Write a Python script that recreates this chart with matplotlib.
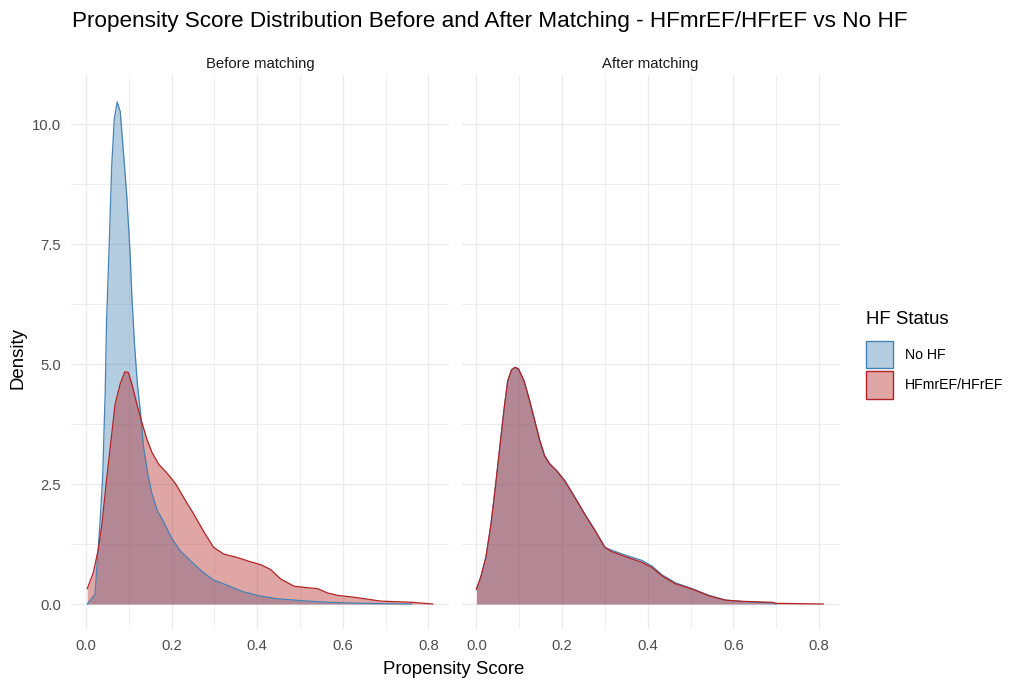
import matplotlib.pyplot as plt
from matplotlib.patches import Patch

plt.rcParams['font.family'] = ['Liberation Sans', 'DejaVu Sans']

# Propensity score densities
before_nohf_x = [0.003, 0.021, 0.033, 0.039, 0.045, 0.048, 0.055, 0.060, 0.066, 0.073,
                 0.080, 0.087, 0.095, 0.103, 0.107, 0.113, 0.120, 0.127, 0.134, 0.144,
                 0.154, 0.167, 0.181, 0.201, 0.220, 0.244, 0.275, 0.298, 0.330, 0.369,
                 0.408, 0.447, 0.502, 0.564, 0.642, 0.760]
before_nohf_y = [0.0, 0.2, 1.72, 2.65, 4.45, 5.88, 7.68, 9.1, 10.1, 10.46,
                 10.26, 9.47, 8.54, 7.32, 6.46, 5.45, 4.59, 4.02, 3.30, 2.73,
                 2.30, 1.94, 1.72, 1.36, 1.11, 0.90, 0.65, 0.50, 0.39, 0.25,
                 0.165, 0.11, 0.07, 0.036, 0.015, 0.0]

before_hf_x = [0.003, 0.017, 0.029, 0.037, 0.048, 0.058, 0.068, 0.080, 0.091, 0.099,
               0.107, 0.119, 0.130, 0.142, 0.154, 0.170, 0.189, 0.209, 0.228, 0.252,
               0.275, 0.298, 0.322, 0.353, 0.384, 0.408, 0.431, 0.455, 0.486, 0.517,
               0.541, 0.564, 0.588, 0.627, 0.658, 0.689, 0.760, 0.810]
before_hf_y = [0.32, 0.65, 1.15, 1.65, 2.58, 3.37, 4.16, 4.59, 4.84, 4.82,
               4.59, 4.16, 3.80, 3.44, 3.16, 2.91, 2.73, 2.51, 2.22, 1.87,
               1.51, 1.18, 1.04, 0.97, 0.88, 0.82, 0.72, 0.52, 0.37, 0.34,
               0.32, 0.23, 0.18, 0.14, 0.10, 0.06, 0.036, 0.0]

after_hf_x = [0.0, 0.010, 0.022, 0.034, 0.045, 0.057, 0.065, 0.073, 0.082, 0.090,
              0.098, 0.111, 0.124, 0.136, 0.148, 0.159, 0.171, 0.187, 0.206, 0.230,
              0.253, 0.277, 0.300, 0.316, 0.347, 0.386, 0.410, 0.433, 0.465, 0.504,
              0.543, 0.582, 0.621, 0.692, 0.700, 0.810]
after_hf_y = [0.31, 0.56, 0.97, 1.67, 2.5, 3.47, 4.10, 4.65, 4.88, 4.93,
              4.90, 4.65, 4.24, 3.82, 3.40, 3.09, 2.92, 2.78, 2.57, 2.22,
              1.87, 1.53, 1.18, 1.09, 0.99, 0.87, 0.76, 0.59, 0.42, 0.31,
              0.17, 0.08, 0.056, 0.035, 0.014, 0.0]

after_nohf_x = [0.0, 0.010, 0.022, 0.034, 0.045, 0.057, 0.065, 0.073, 0.082, 0.090,
                0.098, 0.111, 0.124, 0.136, 0.148, 0.159, 0.171, 0.187, 0.206, 0.230,
                0.253, 0.277, 0.300, 0.316, 0.347, 0.386, 0.410, 0.433, 0.465, 0.504,
                0.543, 0.582, 0.621, 0.692, 0.700]
after_nohf_y = [0.31, 0.56, 0.97, 1.67, 2.5, 3.47, 4.10, 4.65, 4.88, 4.93,
                4.90, 4.65, 4.24, 3.82, 3.40, 3.09, 2.92, 2.78, 2.57, 2.22,
                1.87, 1.53, 1.18, 1.12, 1.02, 0.91, 0.79, 0.61, 0.44, 0.32,
                0.18, 0.08, 0.05, 0.02, 0.0]

panels = ['Before matching', 'After matching']
groups = ['No HF', 'HFmrEF/HFrEF']
colors = ['#4682B4', '#B22222']

x_ticks = [0.0, 0.2, 0.4, 0.6, 0.8]
x_minor = [0.1, 0.3, 0.5, 0.7]
y_ticks = [0.0, 2.5, 5.0, 7.5, 10.0]
y_minor = [1.25, 3.75, 6.25, 8.75]

fig = plt.figure(figsize=(10.19, 6.83), dpi=100)
W, H = 1019, 683
bottom = (H - 629.2) / H
height = (629.2 - 74.6) / H
ax1 = fig.add_axes([71 / W, bottom, 378 / W, height])
ax2 = fig.add_axes([461.5 / W, bottom, 378 / W, height])

data = [
    [(before_nohf_x, before_nohf_y), (before_hf_x, before_hf_y)],
    [(after_nohf_x, after_nohf_y), (after_hf_x, after_hf_y)],
]

for ax, title, series in zip([ax1, ax2], panels, data):
    for (xs, ys), c in zip(series, colors):
        ax.fill_between(xs, ys, color=c, alpha=0.4, lw=0, zorder=2)
        ax.plot(xs, ys, color=c, lw=0.9, zorder=3)
    ax.set_xlim(-0.035, 0.848)
    ax.set_ylim(-0.525, 11.03)
    ax.set_xticks(x_ticks)
    ax.set_xticks(x_minor, minor=True)
    ax.set_yticks(y_ticks)
    ax.set_yticks(y_minor, minor=True)
    ax.grid(which='major', color='#EBEBEB', lw=1.0, zorder=0)
    ax.grid(which='minor', color='#EBEBEB', lw=0.6, zorder=0)
    for s in ax.spines.values():
        s.set_visible(False)
    ax.tick_params(which='both', length=0, labelsize=10.7, labelcolor='#4D4D4D', pad=7)
    ax.set_title(title, fontsize=10.7, color='#1A1A1A', pad=5)

ax1.set_yticklabels(['0.0', '2.5', '5.0', '7.5', '10.0'])
ax1.set_xticklabels(['0.0', '0.2', '0.4', '0.6', '0.8'])
ax2.set_xticklabels(['0.0', '0.2', '0.4', '0.6', '0.8'])
ax2.tick_params(labelleft=False)

fig.text(72 / W, 1 - 21 / H,
         'Propensity Score Distribution Before and After Matching - HFmrEF/HFrEF vs No HF',
         fontsize=16.2, ha='left', va='center', color='black')
fig.text(454 / W, 1 - 669 / H, 'Propensity Score', fontsize=13.4, ha='center', va='center')
fig.text(18 / W, 1 - 358 / H, 'Density', fontsize=13.4, rotation=90, ha='center', va='center')

handles = [Patch(facecolor=c + '66', edgecolor=c, lw=1.0) for c in colors]
leg = fig.legend(handles, groups, title='HF Status', loc='center left',
                 bbox_to_anchor=(860 / W, 1 - 355 / H), frameon=False,
                 fontsize=10.2, title_fontsize=13.4, handlelength=1.95, handleheight=2.6,
                 labelspacing=0.2, handletextpad=0.85, borderaxespad=0)
leg._legend_box.align = 'left'
leg._legend_box.sep = 9

fig.savefig('out.png', dpi=100)
